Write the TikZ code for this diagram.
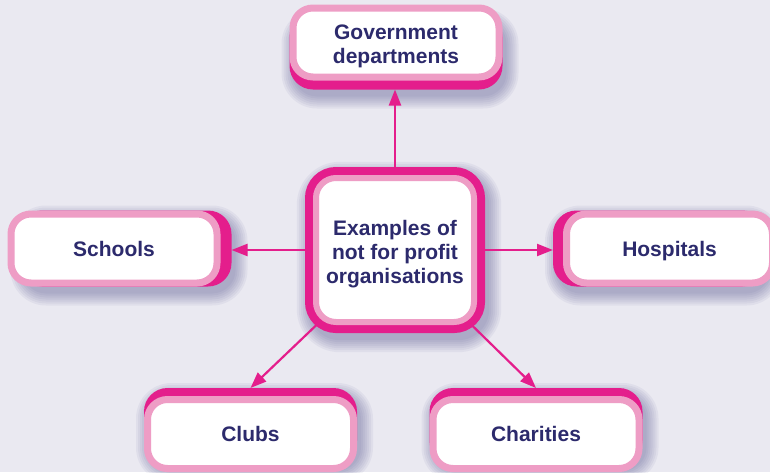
\documentclass[tikz,border=0pt]{standalone}
\usepackage{fontspec}
\setmainfont{Liberation Sans}
\usetikzlibrary{arrows.meta}
\definecolor{hubpink}{HTML}{E41E8C}
\definecolor{softpink}{HTML}{EE9DC5}
\definecolor{inkblue}{HTML}{2C2A6C}
\definecolor{paper}{HTML}{EAE9F1}
\definecolor{dusk}{HTML}{3E3E80}
\pgfdeclarelayer{bg}
\pgfdeclarelayer{shadows}
\pgfdeclarelayer{wires}
\pgfsetlayers{bg,shadows,wires,main}
\newcommand{\boxtext}[2][3pt]{\raisebox{-#1}[\height][\depth]{\begin{tabular}{@{}c@{}}#2\end{tabular}}}
% soft shadow in rings below a node: name, corner radius
\newcommand{\softshadow}[2]{%
 \foreach \g in {0,2,...,12}
  \fill[dusk,opacity=.06,rounded corners={#2+\g pt}]
  ([xshift={(4-\g)*1pt},yshift={(-7+\g)*1pt}]#1.north west) rectangle
  ([xshift={(4+\g)*1pt},yshift={(-7-\g)*1pt}]#1.south east);}

\begin{document}
\begin{tikzpicture}[x=1pt,y=-1pt,font=\fontsize{21}{24}\selectfont\bfseries,
backing/.style={fill=hubpink,rounded corners=23.5pt,minimum width=213pt,minimum height=76pt,inner sep=0pt,outer sep=0pt},
leaf/.style={fill=white,draw=softpink,line width=7pt,rounded corners=20pt,minimum width=206pt,minimum height=69pt,inner sep=0pt,text=inkblue},
hubback/.style={rounded corners=31pt,minimum width=180pt,minimum height=166pt,inner sep=0pt},
hub/.style={preaction={draw=hubpink,line width=22pt},fill=white,draw=softpink,line width=6pt,rounded corners=20pt,
 minimum width=158pt,minimum height=144pt,inner sep=0pt,outer sep=11pt,text=inkblue},
arrow/.style={-{Triangle[length=16pt,width=12pt]},line width=2.2pt,draw=hubpink}]
\useasboundingbox (0,0) rectangle (770,472);
\clip (0,0) rectangle (770,472);
\begin{pgfonlayer}{bg}
\fill[paper] (0,0) rectangle (770,472);
\end{pgfonlayer}
% centre
\node[hubback] (centralback) at (395,250) {};
\node[hub] (central) at (395,250) {\boxtext[5pt]{Examples of\\not for profit\\organisations}};
% outer boxes: magenta backing first, then the pink face
\node[backing] (govtback) at (396,51.5) {};
\node[leaf] (govt) at (396,42.5) {\boxtext[4pt]{Government\\departments}};
\node[backing] (schoolsback) at (125,248.5) {};
\node[leaf] (schools) at (114,248.5) {\boxtext{Schools}};
\node[backing] (hospback) at (659.5,248.5) {};
\node[leaf] (hosp) at (669.5,248.5) {\boxtext{Hospitals}};
\node[backing] (clubsback) at (250.5,426) {};
\node[leaf] (clubs) at (250.5,434) {\boxtext{Clubs}};
\node[backing] (charback) at (536,426) {};
\node[leaf] (char) at (536,434) {\boxtext{Charities}};
% shadows
\begin{pgfonlayer}{shadows}
\softshadow{centralback}{31pt}
\foreach \b in {govtback,schoolsback,hospback,clubsback,charback}
 {\softshadow{\b}{23.5pt}}
\end{pgfonlayer}
% arrows run under the boxes
\begin{pgfonlayer}{wires}
\draw[arrow] (central.center)--(central.center |- govtback.south);
\draw[arrow] (central.center)--(central.center -| schoolsback.east);
\draw[arrow] (central.center)--(central.center -| hospback.west);
\draw[arrow] (central.center)--(clubsback.north);
\draw[arrow] (central.center)--(charback.north);
\end{pgfonlayer}
\end{tikzpicture}
\end{document}
